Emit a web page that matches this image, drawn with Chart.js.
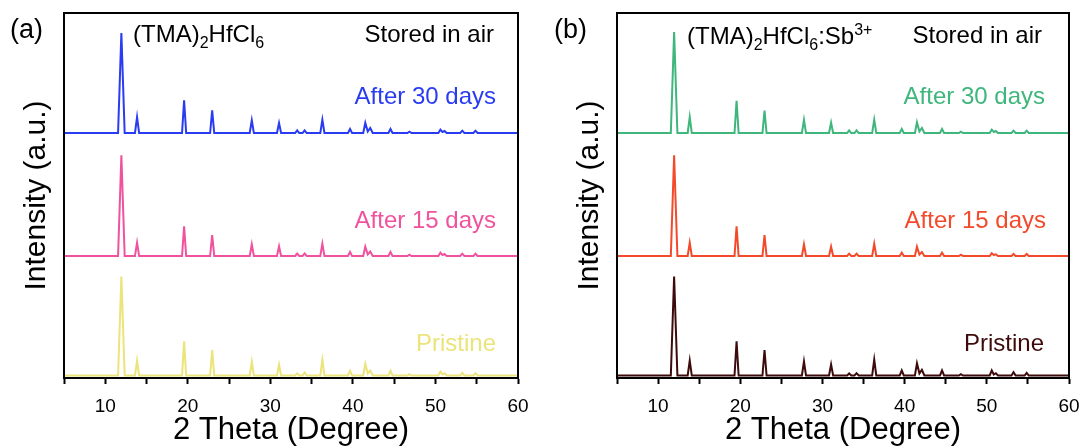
<!DOCTYPE html>
<html>
<head>
<meta charset="utf-8">
<script src="https://cdn.jsdelivr.net/npm/chart.js@4.4.1/dist/chart.umd.min.js"></script>
<style>
  html, body { margin:0; padding:0; background:#fff; }
  body { width:1086px; height:447px; position:relative; overflow:hidden;
         font-family:'Liberation Sans', Arial, Helvetica, sans-serif; }
  .pane { position:absolute; top:0; width:543px; height:447px; }
  .lbl { position:absolute; font-size:24px; line-height:24px; white-space:nowrap; color:#000; z-index:5; }
  .r { text-align:right; }
  .sub { font-size:16px; position:relative; top:6px; }
  .sup { font-size:16px; position:relative; top:-9px; }
</style>
</head>
<body>
<div class="pane" style="left:0"><canvas id="chartA"></canvas></div>
<div class="pane" style="left:543px"><canvas id="chartB"></canvas></div>

<div class="lbl" style="left:10px;top:16px;font-size:27px;line-height:27px">(a)</div>
<div class="lbl" style="left:133px;top:22px">(TMA)<span class="sub">2</span>HfCl<span class="sub">6</span></div>
<div class="lbl r" style="right:592px;top:22px">Stored in air</div>
<div class="lbl r" style="right:590px;top:84px;color:#2a3cf2">After 30 days</div>
<div class="lbl r" style="right:590px;top:208px;color:#f0529e">After 15 days</div>
<div class="lbl r" style="right:590px;top:331px;color:#ebe47a">Pristine</div>

<div class="lbl" style="left:554px;top:16px;font-size:27px;line-height:27px">(b)</div>
<div class="lbl" style="left:687px;top:24px">(TMA)<span class="sub">2</span>HfCl<span class="sub">6</span>:Sb<span class="sup">3+</span></div>
<div class="lbl r" style="right:44px;top:23px">Stored in air</div>
<div class="lbl r" style="right:41px;top:84px;color:#3fb67c">After 30 days</div>
<div class="lbl r" style="right:40px;top:208px;color:#f44a2c">After 15 days</div>
<div class="lbl r" style="right:42px;top:331px;color:#3d0b0b">Pristine</div>

<script>
// ---- data (2θ in degrees, intensities in arbitrary units relative to each trace's baseline) ----
const twoTheta = [5,
  11.55, 11.95, 12.35,
  13.6, 13.85, 14.1,
  19.3, 19.55, 19.8,
  22.7, 22.95, 23.2,
  27.5, 27.75, 28.0,
  30.8, 31.05, 31.3,
  33.0, 33.25, 33.5,
  33.9, 34.15, 34.4,
  36.05, 36.3, 36.55,
  39.4, 39.65, 39.9,
  41.25, 41.5, 41.8, 42.1, 42.4,
  44.3, 44.55, 44.8,
  46.6, 46.85, 47.1,
  50.35, 50.6, 50.85, 51.1, 51.35,
  53.0, 53.25, 53.5,
  54.6, 54.85, 55.1,
  60];

// (a) (TMA)2HfCl6
const tmaAfter30 = [0,
  0,100,0,  0,16,0,  0,32.7,0,  0,22.7,0,  0,12.7,0,  0,10,0,  0,2.7,0,  0,2.7,0,
  0,13.3,0,  0,4,0,  0,10.3,1.5,5,0,  0,4,0,  0,1.3,0,  0,3.3,1,2,0,  0,2.3,0,  0,2.3,0,
  0];
const tmaAfter15 = [0,
  0,100.7,0,  0,13.3,0,  0,29.7,0,  0,21,0,  0,11.7,0,  0,9.7,0,  0,2.5,0,  0,2.5,0,
  0,12.3,0,  0,4,0,  0,9.3,1.5,4.5,0,  0,4,0,  0,1.3,0,  0,3.3,1,2,0,  0,2.3,0,  0,2.3,0,
  0];
const tmaPristine = [0,
  0,99,0,  0,15,0,  0,34.3,0,  0,25.3,0,  0,13.7,0,  0,11,0,  0,2,0,  0,3,0,
  0,15.7,0,  0,4.7,0,  0,11.7,2,5,0,  0,4.7,0,  0,1.3,0,  0,4,1,2.3,0,  0,2.7,0,  0,2.3,0,
  0];

// (b) (TMA)2HfCl6:Sb3+
const sbAfter30 = [0,
  0,101,0,  0,16,0,  0,32.3,0,  0,22.3,0,  0,13,0,  0,10.3,0,  0,2.7,0,  0,2.7,0,
  0,13.3,0,  0,4,0,  0,10.7,1.5,5,0,  0,4,0,  0,1.3,0,  0,3.3,1,2,0,  0,2.3,0,  0,2.3,0,
  0];
const sbAfter15 = [0,
  0,100.7,0,  0,13.3,0,  0,29.7,0,  0,21,0,  0,11.7,0,  0,9.3,0,  0,2.3,0,  0,2.3,0,
  0,12.3,0,  0,3.3,0,  0,9.3,1.5,4,0,  0,3.3,0,  0,1.3,0,  0,2.7,1,1.7,0,  0,2,0,  0,2,0,
  0];
const sbPristine = [0,
  0,99,0,  0,15,0,  0,34.3,0,  0,25.3,0,  0,14,0,  0,11,0,  0,2,0,  0,2.3,0,
  0,16,0,  0,5,0,  0,12.3,2,5.7,0,  0,5,0,  0,1.3,0,  0,5,1,2.3,0,  0,3.3,0,  0,2.7,0,
  0];

// vertical offsets of the stacked traces (30 days, 15 days, pristine)
const offsets = [245, 122, 2.5];
const yMax = 365;

const xTicks = [10, 20, 30, 40, 50, 60];

// ---- rendering ----
function pts(vals, off) {
  return twoTheta.map((x, i) => ({ x: x, y: vals[i] + off }));
}

const framePlugin = {
  id: 'frame',
  afterDraw(chart) {
    const { ctx, chartArea: a } = chart;
    ctx.save();
    ctx.strokeStyle = '#000';
    ctx.lineWidth = 2;
    ctx.strokeRect(a.left, a.top, a.right - a.left, a.bottom - a.top);
    ctx.restore();
  }
};

function makeChart(id, series, colors, yAxisWidth, padRight, titlePad) {
  const datasets = series.map((s, i) => ({
    data: pts(s, offsets[i]),
    borderColor: colors[i],
    borderWidth: 2,
    pointRadius: 0,
    tension: 0,
    fill: false
  }));
  return new Chart(document.getElementById(id), {
    type: 'line',
    data: { datasets },
    plugins: [framePlugin],
    options: {
      responsive: true,
      maintainAspectRatio: false,
      animation: false,
      devicePixelRatio: 1,
      layout: { padding: { top: 13, right: padRight, left: 0, bottom: 0 } },
      plugins: { legend: { display: false }, tooltip: { enabled: false } },
      scales: {
        x: {
          type: 'linear',
          min: 5, max: 60,
          ticks: {
            stepSize: 5,
            autoSkip: false,
            maxRotation: 0,
            padding: 11,
            color: '#000',
            font: { family: "'Liberation Sans', Arial, sans-serif", size: 19 },
            callback: v => (xTicks.includes(v) ? String(v) : '')
          },
          grid: { display: true, drawOnChartArea: false, drawTicks: true, tickLength: 6, tickWidth: 2, tickColor: '#000' },
          border: { display: true, width: 2, color: '#000' },
          title: {
            display: true, text: '2 Theta (Degree)', color: '#000',
            font: { family: "'Liberation Sans', Arial, sans-serif", size: 31, lineHeight: 1 },
            padding: { top: 0, bottom: 1 }
          },
          afterFit: s => { s.height = 69; s.paddingLeft = 0; s.paddingRight = 0; }
        },
        y: {
          type: 'linear',
          min: 0, max: yMax,
          ticks: { display: false },
          grid: { display: false },
          border: { display: true, width: 2, color: '#000' },
          title: {
            display: true, text: 'Intensity (a.u.)', color: '#000',
            font: { family: "'Liberation Sans', Arial, sans-serif", size: 30, lineHeight: 1.2 },
            padding: { top: titlePad, bottom: 0 }
          },
          afterFit: s => { s.width = yAxisWidth; }
        }
      }
    }
  });
}

makeChart('chartA', [tmaAfter30, tmaAfter15, tmaPristine],
  ['#2a3cf2', '#f0529e', '#ebe47a'], 64, 25, 19);
makeChart('chartB', [sbAfter30, sbAfter15, sbPristine],
  ['#3fb67c', '#f44a2c', '#3d0b0b'], 74, 17, 29);
</script>
</body>
</html>
